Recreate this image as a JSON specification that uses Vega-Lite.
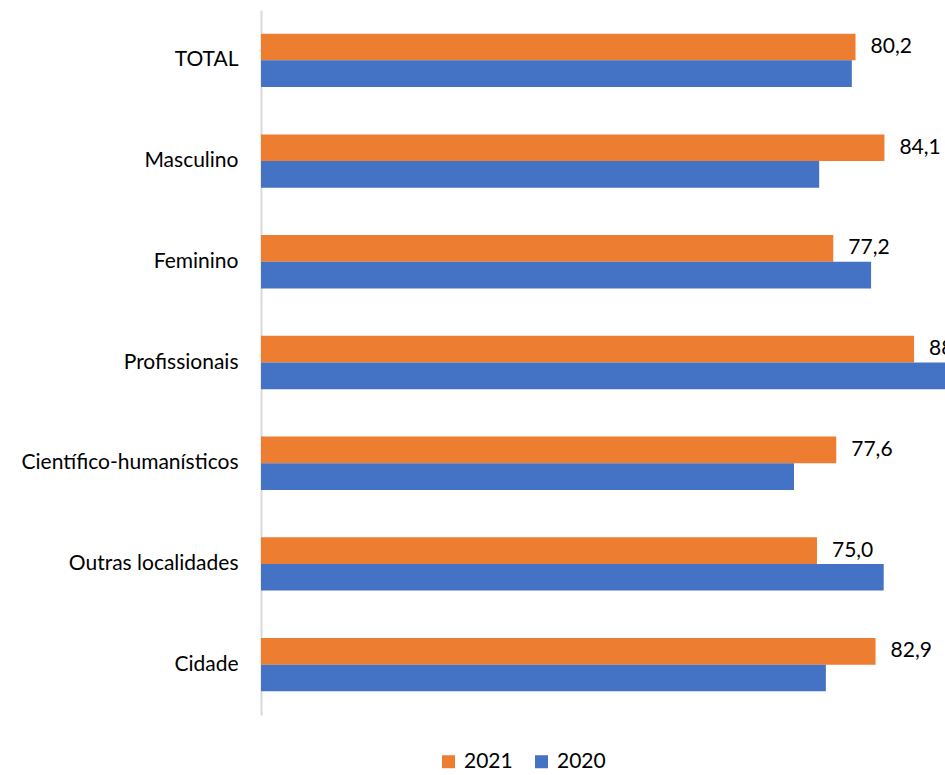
{
  "$schema": "https://vega.github.io/schema/vega-lite/v6.json",
  "autosize": "none",
  "width": 684,
  "height": 705,
  "padding": {"left": 261, "top": 10, "right": 0, "bottom": 60},
  "config": {
    "view": {"stroke": null},
    "font": "Lato",
    "locale": {"number": {"decimal": ",", "thousands": ".", "grouping": [3], "currency": ["", " €"]}}
  },
  "data": {
    "values": [
      {"categoria": "TOTAL", "ano": "2021", "valor": 80.2},
      {"categoria": "TOTAL", "ano": "2020", "valor": 79.7},
      {"categoria": "Masculino", "ano": "2021", "valor": 84.1},
      {"categoria": "Masculino", "ano": "2020", "valor": 75.3},
      {"categoria": "Feminino", "ano": "2021", "valor": 77.2},
      {"categoria": "Feminino", "ano": "2020", "valor": 82.3},
      {"categoria": "Profissionais", "ano": "2021", "valor": 88.1},
      {"categoria": "Profissionais", "ano": "2020", "valor": 95.0},
      {"categoria": "Científico-humanísticos", "ano": "2021", "valor": 77.6},
      {"categoria": "Científico-humanísticos", "ano": "2020", "valor": 71.9},
      {"categoria": "Outras localidades", "ano": "2021", "valor": 75.0},
      {"categoria": "Outras localidades", "ano": "2020", "valor": 84.0},
      {"categoria": "Cidade", "ano": "2021", "valor": 82.9},
      {"categoria": "Cidade", "ano": "2020", "valor": 76.2}
    ]
  },
  "encoding": {
    "y": {
      "field": "categoria",
      "type": "nominal",
      "sort": null,
      "scale": {"paddingInner": 0.47, "paddingOuter": 0.235},
      "axis": {
        "title": null,
        "ticks": false,
        "labelPadding": 23,
        "labelFontSize": 21,
        "labelLimit": 300,
        "labelColor": "#000000",
        "labelFont": "Lato",
        "domainColor": "#d9d9d9",
        "domainWidth": 2
      }
    },
    "yOffset": {"field": "ano", "type": "nominal", "sort": ["2021", "2020"]},
    "x": {
      "field": "valor",
      "type": "quantitative",
      "scale": {"domain": [0, 92.27], "nice": false, "zero": true},
      "axis": null
    }
  },
  "layer": [
    {
      "mark": {"type": "bar", "clip": true},
      "encoding": {
        "color": {
          "field": "ano",
          "type": "nominal",
          "sort": ["2021", "2020"],
          "scale": {"domain": ["2021", "2020"], "range": ["#ED7D31", "#4472C4"]},
          "legend": {
            "title": null,
            "orient": "none",
            "direction": "horizontal",
            "legendX": 177,
            "legendY": 741,
            "symbolType": "square",
            "symbolSize": 169,
            "symbolStrokeWidth": 0,
            "labelFontSize": 21,
            "labelColor": "#000000",
            "labelFont": "Lato",
            "columnPadding": 18,
            "labelOffset": 5
          }
        }
      }
    },
    {
      "transform": [{"filter": "datum.ano == '2021'"}],
      "mark": {"type": "text", "align": "left", "baseline": "middle", "dx": 15, "fontSize": 21, "color": "#000000", "font": "Lato"},
      "encoding": {
        "text": {"field": "valor", "type": "quantitative", "format": ".1f"}
      }
    }
  ]
}
